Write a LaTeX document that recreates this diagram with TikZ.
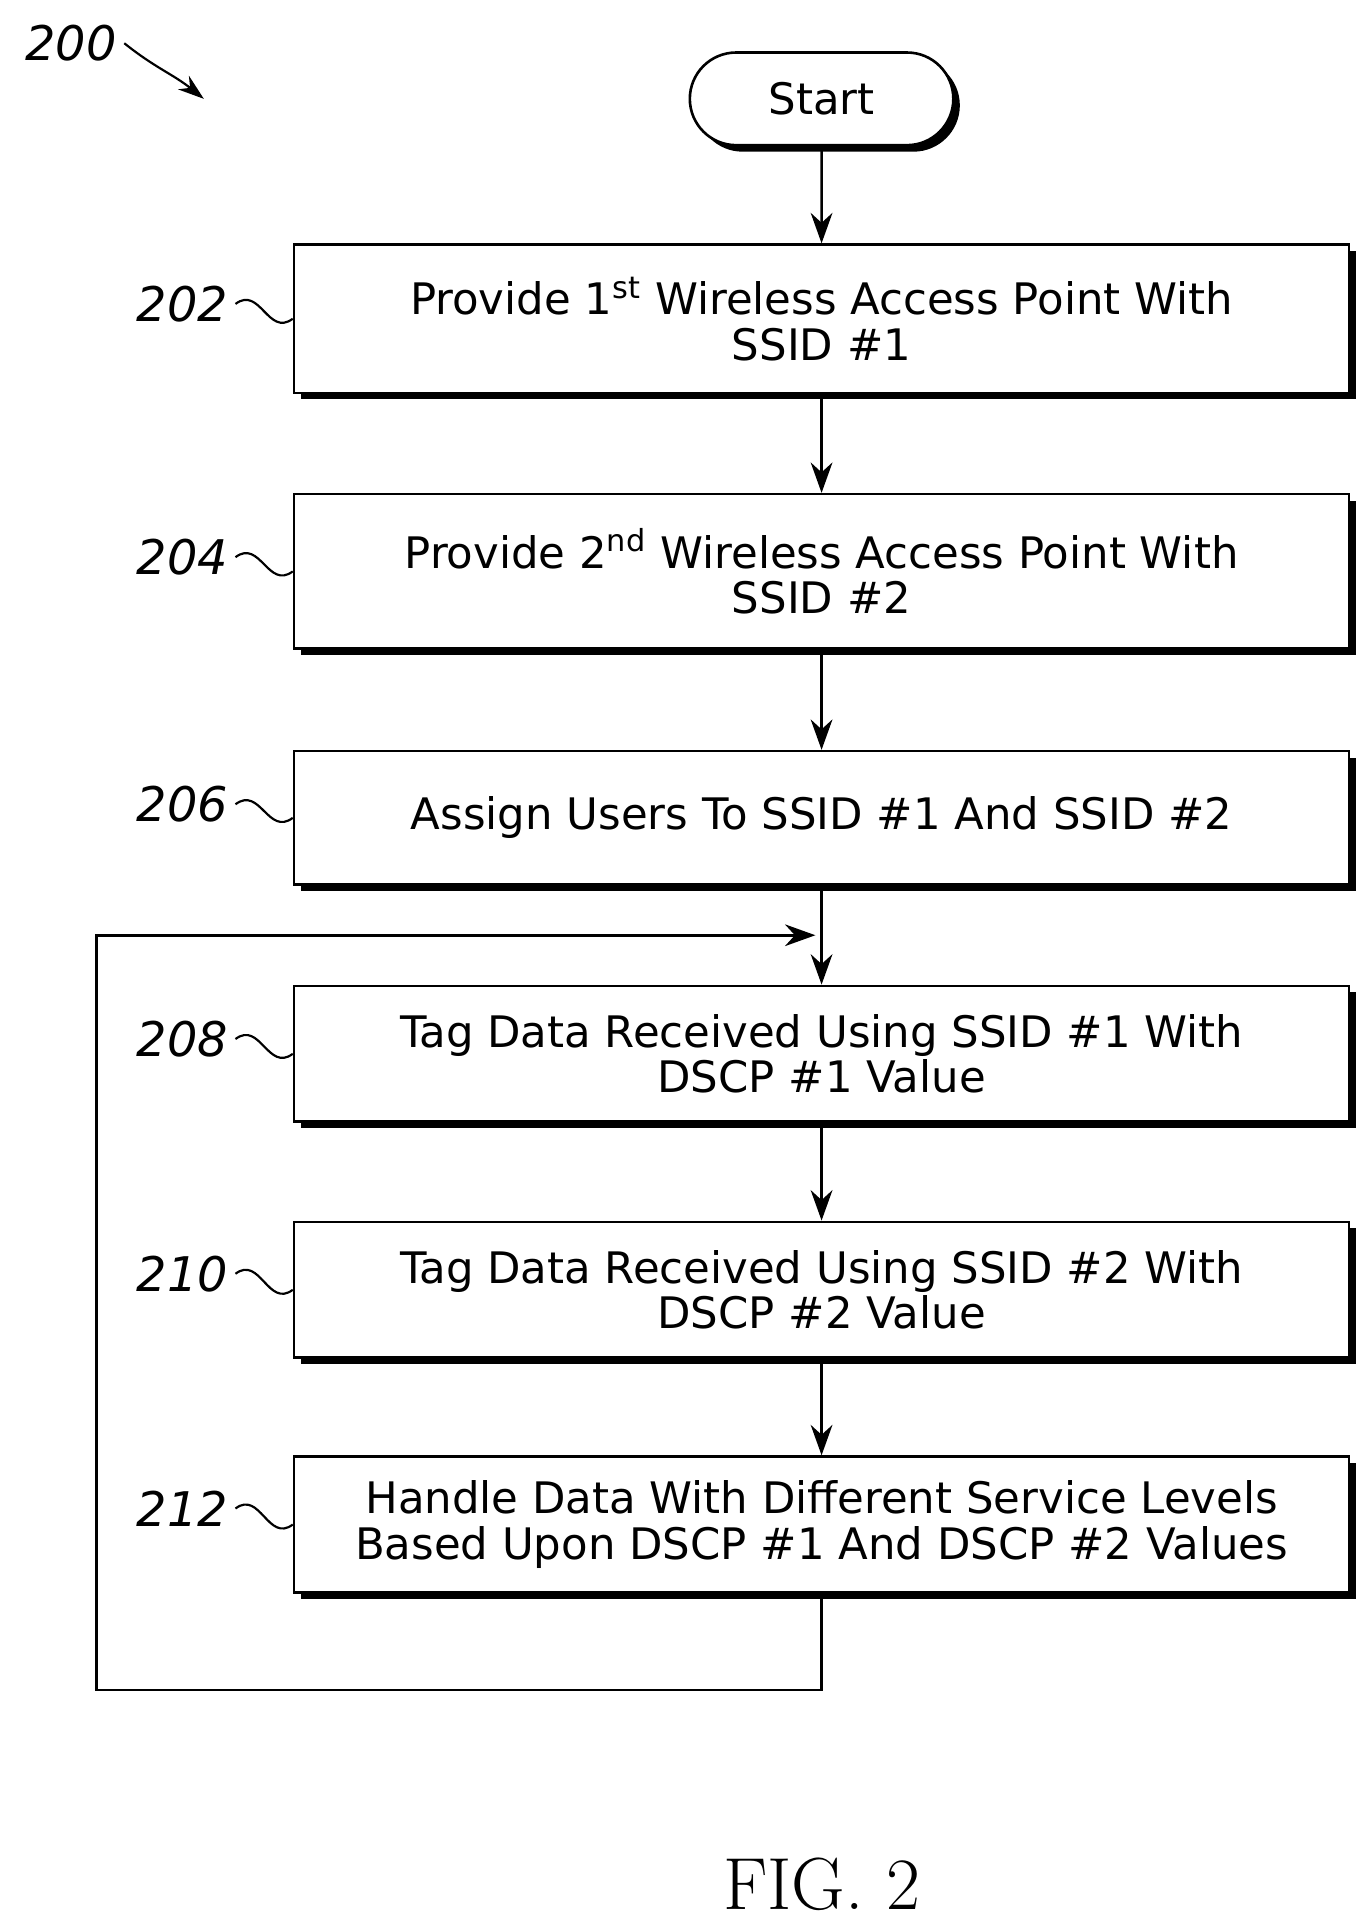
\documentclass[tikz,border=0pt]{standalone}
\usepackage{fontspec}
\setsansfont{DejaVu Sans}
\usetikzlibrary{positioning}
\usetikzlibrary{shapes.misc}
\usetikzlibrary{shadows}
\usetikzlibrary{arrows.meta}

\tikzset{
  stepbox/.style={draw, line width=1.2pt, fill=white, minimum width=17.08cm,
    align=center, font=\sffamily\fontsize{20}{21}\selectfont,
    drop shadow={shadow xshift=3pt, shadow yshift=-3pt, opacity=1, fill=black}},
  reflbl/.style={font=\sffamily\itshape\fontsize{22}{24}\selectfont},
  flow/.style={line width=1.2pt, -{Stealth[length=14pt,width=10pt]}}
}

\begin{document}
\begin{tikzpicture}

\useasboundingbox (0,0) rectangle (22.2,-31.26);

%start
\node[draw, line width=1.2pt, rounded rectangle, fill=white, minimum width=4.5cm, minimum height=1.5cm,
  font=\sffamily\fontsize{20}{21}\selectfont,
  drop shadow={shadow xshift=3pt, shadow yshift=-3pt, opacity=1, fill=black}] (start) at (13.3,-1.6) {Start};

%steps
\node[stepbox, minimum height=2.4cm] (b202) at (13.3,-5.16) {Provide 1\textsuperscript{st} Wireless Access Point With\\SSID \#1};
\node[stepbox, minimum height=2.5cm] (b204) at (13.3,-9.25) {Provide 2\textsuperscript{nd} Wireless Access Point With\\SSID \#2};
\node[stepbox, minimum height=2.16cm] (b206) at (13.3,-13.24) {Assign Users To SSID \#1 And SSID \#2};
\node[stepbox, minimum height=2.2cm] (b208) at (13.3,-17.06) {Tag Data Received Using SSID \#1 With\\DSCP \#1 Value};
\node[stepbox, minimum height=2.2cm] (b210) at (13.3,-20.88) {Tag Data Received Using SSID \#2 With\\DSCP \#2 Value};
\node[stepbox, minimum height=2.2cm] (b212) at (13.3,-24.68) {Handle Data With Different Service Levels\\Based Upon DSCP \#1 And DSCP \#2 Values};

%reference numerals
\node[reflbl] (l202) at (2.95,-4.92) {202};
\node[reflbl] (l204) at (2.95,-9.02) {204};
\node[reflbl] (l206) at (2.95,-13.02) {206};
\node[reflbl] (l208) at (2.95,-16.82) {208};
\node[reflbl] (l210) at (2.95,-20.62) {210};
\node[reflbl] (l212) at (2.95,-24.42) {212};
\node[reflbl] (l200) at (1.15,-0.7) {200};
\coordinate (p200) at (3.3,-1.6);

\foreach \n in {202,204,206,208,210,212}
  \draw[line width=1pt] (l\n.east) .. controls +(0.4,0.3) and +(-0.4,-0.3) .. (b\n.west);
\draw[line width=1pt, -{Stealth[length=12pt,width=8pt]}] (l200.east) .. controls +(0.5,-0.4) and +(-0.5,0.4) .. (p200);

% flow
\draw[flow] (start) -- (b202);
\draw[flow] (b202) -- (b204);
\draw[flow] (b204) -- (b206);
\draw[flow] (b206) -- (b208);
\draw[flow] (b208) -- (b210);
\draw[flow] (b210) -- (b212);

% loop back
\coordinate (lp1) at (13.3,-27.36);
\coordinate (lp2) at (1.56,-27.36);
\coordinate (lp3) at (1.56,-15.14);
\coordinate (lp4) at (13.2,-15.14);
\draw[flow] (b212.south) -- (lp1) -- (lp2) -- (lp3) -- (lp4);

\node[font=\fontsize{34}{36}\selectfont] (fig) at (13.3,-30.5) {FIG. 2};

\end{tikzpicture}
\end{document}
